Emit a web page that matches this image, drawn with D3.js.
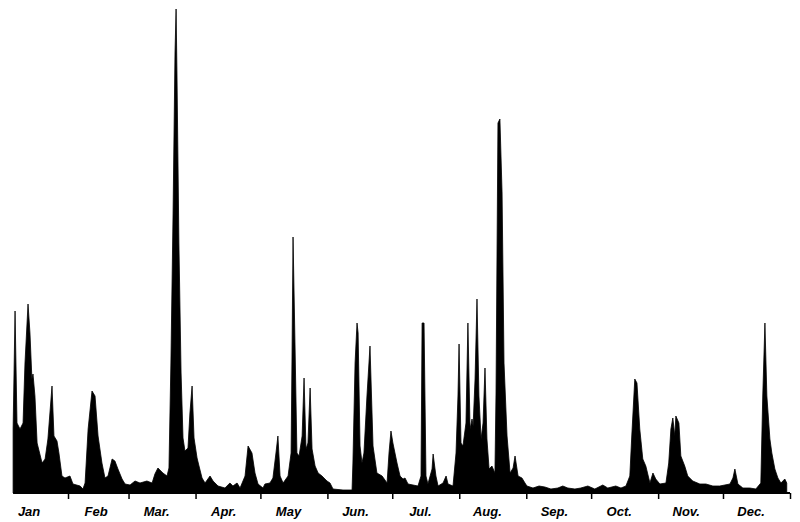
<!DOCTYPE html>
<html>
<head>
<meta charset="utf-8">
<script src="https://cdn.jsdelivr.net/npm/d3@7"></script>
<style>
  html, body { margin: 0; padding: 0; background: #fff; }
  svg { display: block; }
</style>
</head>
<body>
<svg id="chart" width="800" height="522"></svg>
<script>
// Day of year (days after 1 January) at which each reading was taken
const days = [
  5.6, 6.5, 7.4, 8.8, 10.2, 11.1, 12.5, 13.4, 14.3, 14.8, 15.7, 16.7, 19.0, 20.4, 21.7, 23.6, 24.5, 25.9, 26.8, 28.2,
  29.6, 31.9, 33.3, 36.6, 37.9, 38.9, 40.3, 42.1, 43.5, 44.9, 46.7, 48.1, 49.5, 51.4, 52.7, 54.1, 56.0, 57.4, 59.7, 62.0,
  64.3, 67.5, 69.9, 71.2, 72.6, 74.9, 76.8, 77.7, 78.6, 79.6, 80.5, 81.0, 81.4, 82.3, 83.3, 84.2, 85.1, 86.5, 87.4, 88.4,
  89.3, 90.7, 91.6, 93.0, 94.4, 96.7, 98.1, 100.4, 103.6, 105.9, 107.3, 109.2, 110.6, 112.9, 114.3, 116.1, 117.5, 118.9, 121.2, 122.1,
  124.4, 125.8, 127.2, 128.1, 129.1, 130.5, 132.8, 134.2, 134.6, 135.1, 136.0, 136.9, 137.9, 139.3, 140.2, 141.1, 142.0, 143.0, 143.9, 145.3,
  146.7, 148.5, 150.8, 152.2, 153.6, 158.2, 162.4, 162.8, 163.8, 164.7, 165.2, 166.1, 167.0, 167.9, 169.3, 170.7, 172.1, 173.9, 176.3, 178.6,
  179.5, 180.4, 181.3, 183.2, 184.6, 186.0, 186.9, 188.3, 190.6, 192.9, 194.3, 194.8, 195.7, 196.6, 197.5, 199.4, 199.9, 201.2, 202.2, 204.5,
  205.9, 206.8, 209.1, 210.5, 211.4, 211.9, 212.8, 213.7, 215.1, 216.0, 217.0, 217.9, 218.4, 219.3, 220.2, 221.1, 222.1, 223.0, 223.9, 224.8,
  225.8, 227.1, 228.5, 229.0, 229.9, 230.8, 231.8, 232.7, 234.1, 235.5, 236.9, 237.8, 239.2, 241.0, 242.4, 243.3, 246.1, 248.9, 251.6, 254.4,
  257.6, 259.9, 262.2, 265.5, 268.2, 271.5, 274.7, 278.4, 280.7, 284.4, 286.8, 289.1, 290.9, 291.8, 293.2, 294.2, 295.5, 296.9, 298.3, 300.2,
  301.6, 302.9, 304.8, 307.6, 308.9, 309.9, 310.8, 311.7, 312.2, 313.6, 314.5, 316.3, 317.7, 320.0, 323.3, 326.1, 329.3, 332.5, 337.2, 338.6,
  339.5, 340.9, 343.2, 346.4, 349.2, 351.5, 352.4, 353.4, 354.3, 355.7, 356.6, 358.0, 359.4, 360.8, 362.6, 363.5
];

// Discharge read at each of those days (relative units)
const discharge = [
  64, 182, 70, 64, 70, 130, 189, 160, 114, 119, 97, 50, 30, 34, 54, 107, 57, 52, 40, 17,
  15, 17, 9, 7, 4, 10, 64, 102, 97, 57, 30, 15, 17, 34, 32, 24, 14, 9, 8, 12,
  10, 12, 10, 19, 25, 20, 17, 25, 130, 280, 440, 484, 420, 250, 120, 55, 42, 45, 80, 107,
  55, 35, 27, 15, 10, 17, 12, 7, 5, 10, 7, 10, 5, 17, 47, 40, 20, 9, 5, 9,
  10, 15, 40, 57, 17, 10, 17, 40, 130, 256, 150, 40, 37, 57, 115, 44, 50, 105, 44, 27,
  20, 17, 12, 10, 4, 3, 3, 30, 130, 170, 160, 47, 30, 40, 97, 147, 47, 20, 17, 10,
  40, 62, 50, 30, 17, 14, 15, 9, 8, 7, 17, 170, 170, 17, 9, 24, 39, 17, 7, 10,
  17, 9, 7, 40, 97, 149, 50, 47, 70, 170, 64, 74, 67, 114, 194, 97, 54, 70, 125, 54,
  24, 27, 20, 100, 370, 374, 300, 130, 57, 20, 25, 37, 17, 15, 10, 7, 5, 7, 6, 4,
  5, 7, 5, 4, 5, 7, 4, 8, 5, 7, 5, 7, 17, 57, 114, 110, 64, 34, 27, 10,
  20, 14, 9, 10, 30, 64, 75, 57, 77, 70, 37, 27, 17, 12, 9, 9, 7, 7, 9, 15,
  24, 9, 5, 5, 4, 10, 97, 170, 97, 54, 40, 24, 15, 10, 14, 10
];

// Month labels (placed mid-month)
const monthLabels = ["Jan", "Feb", "Mar.", "Apr.", "May", "Jun.", "Jul.", "Aug.", "Sep.", "Oct.", "Nov.", "Dec."];

const YEAR = 2001;
const start = new Date(YEAR, 0, 1);
const end = new Date(YEAR + 1, 0, 1);
const dayMs = 24 * 3600 * 1000;
const toDate = d => new Date(start.getTime() + d * dayMs);

const data = days.map((d, i) => ({ date: toDate(d), value: discharge[i] }));

const svg = d3.select("#chart");

const x = d3.scaleTime().domain([start, end]).range([1, 790]);
const y = d3.scaleLinear().domain([0, 484]).range([493, 9]);

const area = d3.area()
  .x(d => x(d.date))
  .y0(y(0))
  .y1(d => y(d.value))
  .curve(d3.curveLinear);

svg.append("path")
  .datum(data)
  .attr("d", area)
  .attr("fill", "#000")
  .attr("stroke", "#000")
  .attr("stroke-width", 0.8)
  .attr("stroke-linejoin", "round");

const xAxis = d3.axisBottom(x)
  .tickValues(d3.timeMonth.range(new Date(YEAR, 1, 1), new Date(YEAR + 1, 0, 2)))
  .tickSize(6)
  .tickFormat("");

const gAxis = svg.append("g")
  .attr("transform", `translate(0,${y(0)})`)
  .call(xAxis);
gAxis.select(".domain").attr("stroke", "#000").attr("stroke-width", 2)
  .attr("d", `M${x(toDate(days[0]))},0H${x(end)}`);
gAxis.selectAll(".tick line").attr("stroke", "#000").attr("stroke-width", 1.5);

svg.append("g")
  .selectAll("text")
  .data(monthLabels)
  .join("text")
  .attr("x", (d, i) => x(new Date(YEAR, i, 14)))
  .attr("y", 516)
  .attr("text-anchor", "middle")
  .attr("font-family", "'Liberation Sans', Arial, sans-serif")
  .attr("font-style", "italic")
  .attr("font-weight", "bold")
  .attr("font-size", 13)
  .attr("fill", "#000")
  .text(d => d);
</script>
</body>
</html>
